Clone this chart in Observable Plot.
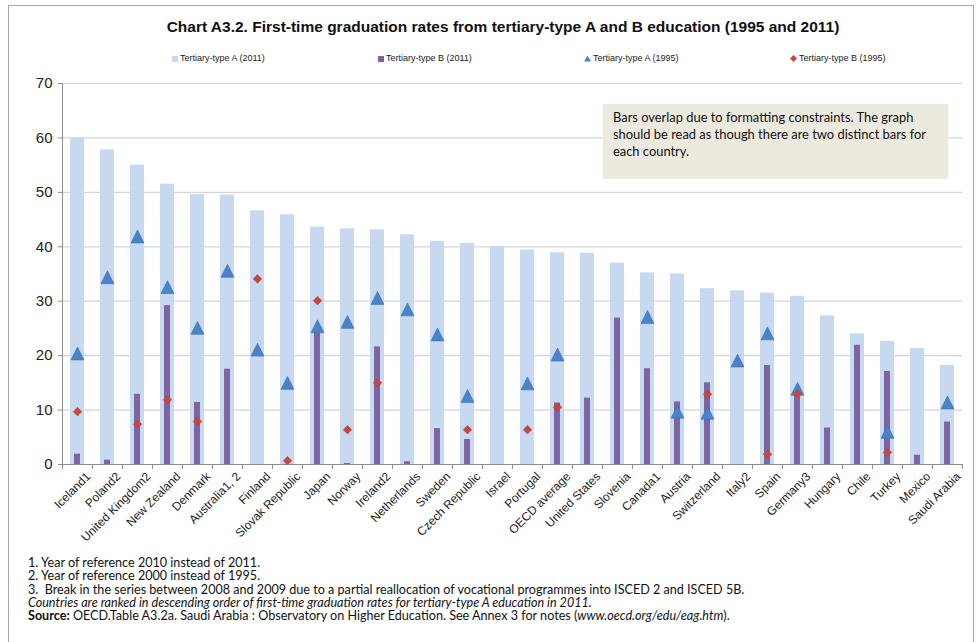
<!DOCTYPE html>
<html>
<head>
<meta charset="utf-8">
<script src="https://cdn.jsdelivr.net/npm/d3@7"></script>
<script src="https://cdn.jsdelivr.net/npm/@observablehq/plot@0.6"></script>
<style>
  html, body { margin: 0; padding: 0; background: #fff; }
  #wrap { position: relative; width: 979px; height: 642px; overflow: hidden; font-family: "Liberation Sans", Arial, sans-serif; }
  #border { position: absolute; left: 8px; top: 5px; width: 966px; height: 700px; border: 1px solid #a6a6a6; box-sizing: border-box; }
  #title { position: absolute; left: 0; width: 1006px; top: 18px; text-align: center; font-weight: bold; font-size: 15.5px; color: #111; }
  .leg { position: absolute; top: 53px; font-size: 9px; color: #222; white-space: nowrap; }
  .leg svg { vertical-align: middle; margin-right: 2px; }
  #note { position: absolute; left: 603px; top: 104px; width: 345px; height: 75px; background: #eceadf; box-sizing: border-box; padding: 5px 10px; font-family: Lato, "Open Sans", sans-serif; font-size: 12.9px; line-height: 17px; color: #111; }
  #foot { position: absolute; left: 28px; top: 556px; font-family: Lato, "Open Sans", sans-serif; font-size: 12.6px; color: #111; }
  .fn { height: 13.3px; line-height: 13.3px; white-space: nowrap; overflow: visible; }
  #chart { position: absolute; left: 0; top: 0; }
</style>
</head>
<body>
<div id="wrap">
  <div id="border"></div>
  <div id="chart"></div>
  <div id="title"></div>
  <div id="legend"></div>
  <div id="note">Bars overlap due to formatting constraints. The graph should be read as though there are two distinct bars for each country.</div>
  <div id="foot"></div>
</div>
<script>
const titleText = "Chart A3.2. First-time graduation rates from tertiary-type A and B education (1995 and 2011)";

const countries = ["Iceland1","Poland2","United Kingdom2","New Zealand","Denmark","Australia1, 2","Finland","Slovak Republic","Japan","Norway","Ireland2","Netherlands","Sweden","Czech Republic","Israel","Portugal","OECD average","United States","Slovenia","Canada1","Austria","Switzerland","Italy2","Spain","Germany3","Hungary","Chile","Turkey","Mexico","Saudi Arabia"];

const typeA2011 = [59.9,57.8,55.0,51.5,49.6,49.5,46.6,45.9,43.6,43.3,43.1,42.2,41.0,40.6,40.0,39.4,38.9,38.8,37.0,35.2,35.0,32.3,31.9,31.5,30.9,27.3,24.0,22.6,21.3,18.2];
const typeB2011 = [1.9,0.8,12.9,29.2,11.4,17.5,null,null,24.4,0.2,21.6,0.5,6.6,4.6,null,null,11.3,12.2,26.9,17.6,11.5,15.0,null,18.2,13.3,6.7,21.9,17.1,1.7,7.8];
const typeA1995 = [20.4,34.4,41.9,32.6,25.1,35.6,21.1,15.0,25.4,26.2,30.6,28.5,23.9,12.6,null,14.9,20.2,null,null,27.1,9.7,9.5,19.1,24.1,13.9,null,null,6.0,null,11.4];
const typeB1995 = [9.7,null,7.4,11.9,7.9,null,34.1,0.7,30.1,6.4,15.0,null,null,6.4,null,6.4,10.5,null,null,null,null,12.9,null,1.9,13.0,null,null,2.2,null,null];

const yTicks = [0,10,20,30,40,50,60,70];

const seriesNames = ["Tertiary-type A (2011)","Tertiary-type B (2011)","Tertiary-type A (1995)","Tertiary-type B (1995)"];
const colors = {lightBar: "#c6d9f1", purple: "#8064a2", triangle: "#4a84c8", triangleStroke: "#3a6db0", diamond: "#c8463e"};

const footnotes = [
  "1. Year of reference 2010 instead of 2011.",
  "2. Year of reference 2000 instead of 1995.",
  "3.&nbsp; Break in the series between 2008 and 2009 due to a partial reallocation of vocational programmes into ISCED 2 and ISCED 5B.",
  "<i>Countries are ranked in descending order of first-time graduation rates for tertiary-type A education in 2011.</i>",
  "<b>Source:</b> OECD.Table A3.2a. Saudi Arabia : Observatory on Higher Education. See Annex 3 for notes (<i>www.oecd.org/edu/eag.htm</i>)."
];

const rows = countries.map((c, i) => ({country: c, a2011: typeA2011[i], b2011: typeB2011[i], a1995: typeA1995[i], b1995: typeB1995[i]}));

const triSymbol = { draw(ctx, size) { const s = Math.sqrt(size); ctx.moveTo(0, -s/2); ctx.lineTo(s/2, s/2); ctx.lineTo(-s/2, s/2); ctx.closePath(); } };
const diaSymbol = { draw(ctx, size) { const s = Math.sqrt(size) / 2; ctx.moveTo(0, -s); ctx.lineTo(s, 0); ctx.lineTo(0, s); ctx.lineTo(-s, 0); ctx.closePath(); } };

const W = 979, H = 560, mL = 62, mR = 17, mT = 83, mB = 96;
const step = (W - mL - mR) / countries.length;

const plot = Plot.plot({
  width: W, height: H,
  marginLeft: mL, marginRight: mR, marginTop: mT, marginBottom: mB,
  style: {fontFamily: "Liberation Sans, Arial, sans-serif", background: "transparent", overflow: "visible"},
  x: {domain: countries, paddingInner: 0.533, paddingOuter: 0.2665, label: null},
  y: {domain: [0, 70], ticks: yTicks, label: null},
  marks: [
    Plot.gridY(yTicks, {stroke: "#d4d4d4", strokeOpacity: 1, strokeWidth: 1.2}),
    Plot.barY(rows, {x: "country", y: "a2011", fill: colors.lightBar}),
    Plot.barY(rows.filter(d => d.b2011 != null), {x: "country", y: "b2011", fill: colors.purple, insetLeft: 4, insetRight: 4}),
    Plot.ruleY([0], {stroke: "#8c8c8c", strokeWidth: 1}),
    Plot.ruleX([0], {x: () => countries[0], y1: 0, y2: 70, dx: -step/2, stroke: "#8c8c8c"}),
    Plot.ruleX(countries, {x: d => d, y1: 0, y2: -0.9, dx: -step/2, stroke: "#8c8c8c"}),
    Plot.ruleX([countries[countries.length-1]], {x: d => d, y1: 0, y2: -0.9, dx: step/2, stroke: "#8c8c8c"}),
    Plot.dot(rows.filter(d => d.a1995 != null), {x: "country", y: "a1995", symbol: triSymbol, r: 7.3, fill: colors.triangle, stroke: colors.triangleStroke, strokeWidth: 0.6}),
    Plot.dot(rows.filter(d => d.b1995 != null), {x: "country", y: "b1995", symbol: diaSymbol, r: 4.9, fill: colors.diamond, stroke: "#b03a33", strokeWidth: 0.4}),
    Plot.axisY({ticks: yTicks, tickSize: 4, tickPadding: 6, fontSize: 15, stroke: "#8c8c8c", color: "#222", label: null}),
    Plot.axisX({tickSize: 0, tickRotate: -45, tickPadding: 10, dx: 11, fontSize: 12, color: "#222", label: null})
  ]
});
document.getElementById("chart").appendChild(plot);

document.getElementById("title").textContent = titleText;

const legPos = [172, 378, 584, 790];
const legIcons = [
  `<svg width="6" height="6"><rect width="6" height="6" fill="${colors.lightBar}"/></svg>`,
  `<svg width="6" height="6"><rect width="6" height="6" fill="${colors.purple}"/></svg>`,
  `<svg width="7" height="7"><path d="M3.5,0.5L7,6.5L0,6.5Z" fill="${colors.triangle}"/></svg>`,
  `<svg width="7" height="7"><path d="M3.5,0L7,3.5L3.5,7L0,3.5Z" fill="${colors.diamond}"/></svg>`
];
const legend = document.getElementById("legend");
seriesNames.forEach((name, i) => {
  const d = document.createElement("div");
  d.className = "leg";
  d.style.left = legPos[i] + "px";
  d.innerHTML = legIcons[i] + name;
  legend.appendChild(d);
});

const foot = document.getElementById("foot");
footnotes.forEach(t => {
  const d = document.createElement("div");
  d.className = "fn";
  d.innerHTML = t;
  foot.appendChild(d);
});
</script>
</body>
</html>
